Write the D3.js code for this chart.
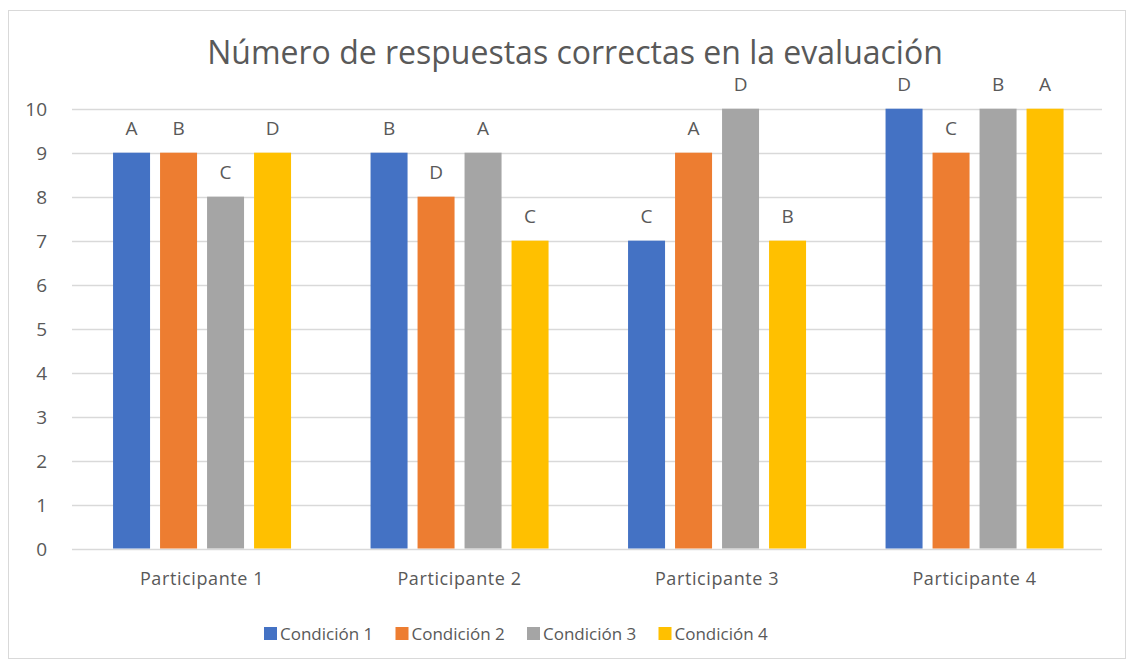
<!DOCTYPE html>
<html>
<head>
  <meta charset="utf-8">
  <script src="https://cdn.jsdelivr.net/npm/d3@7"></script>
  <style>
    html, body { margin:0; padding:0; background:#fff; }
    text { font-family: "Open Sans", "Noto Sans", sans-serif; fill:#595959; }
  </style>
  <title></title>
</head>
<body>
<div id="chart"></div>
<script>
    // chart data
    var participants = ["Participante 1", "Participante 2", "Participante 3", "Participante 4"];
    var conditions = ["Condición 1", "Condición 2", "Condición 3", "Condición 4"];
    var colors = ["#4472c4", "#ed7d31", "#a5a5a5", "#ffc000"];
    var cond1 = [9, 9, 7, 10];
    var cond2 = [9, 8, 9, 9];
    var cond3 = [8, 9, 10, 10];
    var cond4 = [9, 7, 7, 10];
    var labels1 = ["A", "B", "C", "D"];
    var labels2 = ["B", "D", "A", "C"];
    var labels3 = ["C", "A", "D", "B"];
    var labels4 = ["D", "C", "B", "A"];
    var yTicks = [0, 1, 2, 3, 4, 5, 6, 7, 8, 9, 10];

    var series = [cond1, cond2, cond3, cond4];
    var seriesLabels = [labels1, labels2, labels3, labels4];

    var W = 1134, H = 666;
    var svg = d3.select("#chart").append("svg").attr("width", W).attr("height", H);

    // outer frame
    svg.append("rect")
        .attr("x", 8.5).attr("y", 10.5)
        .attr("width", 1117).attr("height", 648)
        .style("fill", "#fff").style("stroke", "#d9d9d9");

    var x = d3.scaleBand().domain(participants).range([73.3, 1103.3]);
    var y = d3.scaleLinear().domain([0, 10]).range([548.5, 108.7]);

    // inner band for the 4 bars of a participant
    var groupW = 178;
    var xi = d3.scaleBand().domain(d3.range(4)).range([0, groupW]).paddingInner(10 / 47);

    // gridlines + y labels
    svg.append("g").selectAll("line").data(yTicks).enter().append("line")
        .attr("x1", 72).attr("x2", 1102)
        .attr("y1", function(d){ return Math.round(y(d)) + 0.5; })
        .attr("y2", function(d){ return Math.round(y(d)) + 0.5; })
        .style("stroke", "#d9d9d9").style("stroke-width", 1.5);

    svg.append("g").selectAll("text").data(yTicks).enter().append("text")
        .attr("x", 47).attr("y", function(d){ return y(d) + 7; })
        .attr("text-anchor", "end")
        .style("font-size", "19px")
        .text(function(d){ return d; });

    // bars
    series.forEach(function(vals, s){
        var g = svg.append("g");
        g.selectAll("rect").data(vals).enter().append("rect")
            .attr("x", function(d, i){ return x(participants[i]) + x.bandwidth() / 2 - groupW / 2 + xi(s); })
            .attr("y", function(d){ return y(d); })
            .attr("width", xi.bandwidth())
            .attr("height", function(d){ return y(0) - y(d); })
            .style("fill", colors[s]);
        g.selectAll("text").data(vals).enter().append("text")
            .attr("x", function(d, i){ return x(participants[i]) + x.bandwidth() / 2 - groupW / 2 + xi(s) + xi.bandwidth() / 2; })
            .attr("y", function(d){ return y(d) - 18; })
            .attr("text-anchor", "middle")
            .style("font-size", "19px")
            .text(function(d, i){ return seriesLabels[s][i]; });
    });

    // category labels
    svg.append("g").selectAll("text").data(participants).enter().append("text")
        .attr("x", function(d){ return x(d) + x.bandwidth() / 2; })
        .attr("y", 585)
        .attr("text-anchor", "middle")
        .style("font-size", "18px")
        .style("letter-spacing", "0.6px")
        .text(function(d){ return d; });

    // title
    svg.append("text")
        .attr("x", 575).attr("y", 64)
        .attr("text-anchor", "middle")
        .style("font-size", "32px")
        .text("Número de respuestas correctas en la evaluación");

    // legend
    var legend = svg.append("g").selectAll("g").data(conditions).enter().append("g")
        .attr("transform", function(d, i){ return "translate(" + (264 + i * 131.5) + ",627)"; });
    legend.append("rect").attr("width", 13).attr("height", 13)
        .style("fill", function(d, i){ return colors[i]; });
    legend.append("text").attr("x", 16).attr("y", 13)
        .style("font-size", "17px")
        .text(function(d){ return d; });
</script>
</body>
</html>
